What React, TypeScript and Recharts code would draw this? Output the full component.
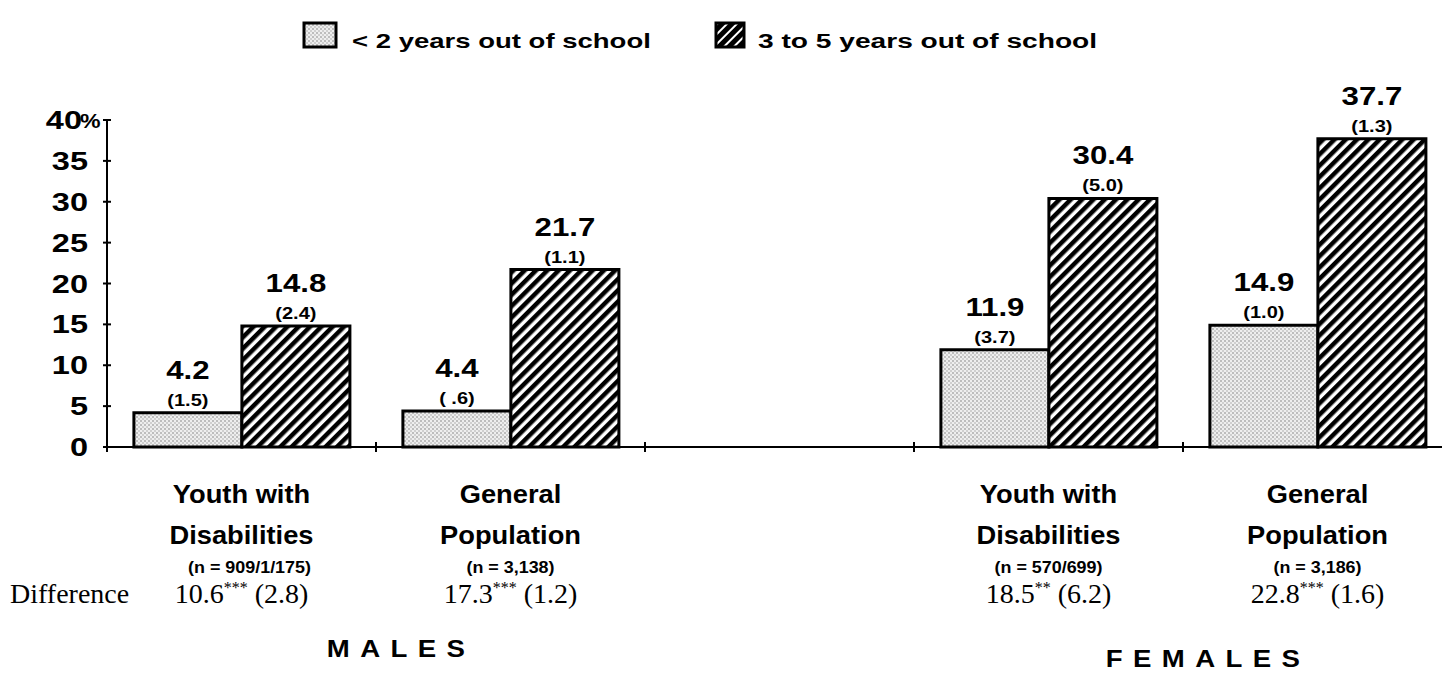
import { Bar, BarChart, LabelList, XAxis, YAxis } from "recharts";

const categoryKeys = ["m-ywd", "m-gp", "gap", "f-ywd", "f-gp"];
const categoryLines = [["Youth with", "Disabilities"], ["General", "Population"], [], ["Youth with", "Disabilities"], ["General", "Population"]];
const sampleLabels = ["(n = 909/1/175)", "(n = 3,138)", "", "(n = 570/699)", "(n = 3,186)"];
const lessThan2 = [4.2, 4.4, null, 11.9, 14.9];
const lessThan2Se = [1.5, 0.6, null, 3.7, 1.0];
const threeToFive = [14.8, 21.7, null, 30.4, 37.7];
const threeToFiveSe = [2.4, 1.1, null, 5.0, 1.3];
const differences = [10.6, 17.3, null, 18.5, 22.8];
const differenceStars = ["***", "***", "", "**", "***"];
const differenceSe = [2.8, 1.2, null, 6.2, 1.6];
const groupLabels: Record<number, string> = { 0: "MALES", 3: "FEMALES" };
const yTicks = [0, 5, 10, 15, 20, 25, 30, 35, 40];
const legendItems = ["< 2 years out of school", "3 to 5 years out of school"];

const rows = categoryKeys.map((key, i) => ({
  key,
  less: lessThan2[i],
  lessSe: lessThan2Se[i],
  three: threeToFive[i],
  threeSe: threeToFiveSe[i]
}));

const SANS = "'Liberation Sans', Arial, sans-serif";
const SERIF = "'Liberation Serif', 'Times New Roman', serif";
const CHART_W = 1452;
const CHART_H = 674;
const MARGIN = { top: 120, right: 0, bottom: 0, left: 27 };
const Y_AXIS_W = 80;
const X_AXIS_H = 227;
const BAND_W = (CHART_W - MARGIN.left - MARGIN.right - Y_AXIS_W) / categoryKeys.length;

function SText({ x, y, sx = 1, anchor = "middle", size, weight = "bold", serif = false, spacing, children }: any) {
  return (
    <text
      transform={`translate(${x},${y}) scale(${sx},1)`}
      textAnchor={anchor}
      fontSize={size}
      fontWeight={weight}
      fontFamily={serif ? SERIF : SANS}
      letterSpacing={spacing}
      fill="#000"
    >
      {children}
    </text>
  );
}

function formatSe(v: number): string {
  return v < 1 ? `( ${v.toFixed(1).slice(1)})` : `(${v.toFixed(1)})`;
}

function BigLabel(props: any) {
  const { x, y, width, value } = props;
  if (value == null) return null;
  return <SText x={x + width / 2} y={y - 34} size={26} sx={1.2}>{value.toFixed(1)}</SText>;
}

function SmallLabel(props: any) {
  const { x, y, width, value } = props;
  if (value == null) return null;
  return <SText x={x + width / 2} y={y - 7} size={16} sx={1.25}>{formatSe(value)}</SText>;
}

function YTick(props: any) {
  const { x, y, payload } = props;
  const v = payload.value;
  return (
    <g>
      <line x1={x - 4} x2={x + 4} y1={y} y2={y} stroke="#000" strokeWidth={2} />
      {v === 40 ? (
        <g>
          <SText x={x - 25} y={y + 9} anchor="end" size={25} sx={1.3}>40</SText>
          <SText x={x - 27} y={y + 8} anchor="start" size={21} sx={1.1}>%</SText>
        </g>
      ) : (
        <SText x={x - 19} y={y + 9} anchor="end" size={25} sx={1.3}>{v}</SText>
      )}
    </g>
  );
}

function XTick(props: any) {
  const { x, y, index } = props;
  const lines = categoryLines[index] ?? [];
  const diff = differences[index];
  const group = groupLabels[index];
  return (
    <g>
      <line x1={x - BAND_W / 2} x2={x - BAND_W / 2} y1={y - 5} y2={y + 5} stroke="#000" strokeWidth={2} />
      {index === categoryKeys.length - 1 && (
        <line x1={x + BAND_W / 2} x2={x + BAND_W / 2} y1={y - 5} y2={y + 5} stroke="#000" strokeWidth={2} />
      )}
      {lines.map((line: string, i: number) => (
        <SText key={line} x={x} y={y + 56 + i * 41} size={26} sx={1.05}>{line}</SText>
      ))}
      {sampleLabels[index] && (
        <SText x={x + (index === 0 ? 8 : 0)} y={y + 126} size={16} sx={1.12}>{sampleLabels[index]}</SText>
      )}
      {diff != null && (
        <text x={x} y={y + 156} textAnchor="middle" fontFamily={SERIF} fontSize={28} fill="#000">
          {diff.toFixed(1)}
          <tspan fontSize={16} dy={-10}>{differenceStars[index]}</tspan>
          <tspan dy={10}>{` (${differenceSe[index]!.toFixed(1)})`}</tspan>
        </text>
      )}
      {index === 0 && (
        <text x={10} y={y + 156} fontFamily={SERIF} fontSize={28} fill="#000">Difference</text>
      )}
      {group && (
        <SText x={x + BAND_W / 2 + 20 + 5} y={y + (index === 0 ? 210 : 220)} size={24} sx={1.15} spacing={9}>{group}</SText>
      )}
    </g>
  );
}

function Legend() {
  return (
    <svg width={1442} height={70} style={{ position: "absolute", left: 0, top: 0 }}>
      <defs>
        <pattern id="legStipple" width={4} height={4} patternUnits="userSpaceOnUse">
          <rect width={4} height={4} fill="#eeeeee" />
          <circle cx={1} cy={1} r={0.7} fill="#666" />
          <circle cx={3} cy={3} r={0.7} fill="#999" />
        </pattern>
        <pattern id="legHatch" width={7} height={7} patternUnits="userSpaceOnUse" patternTransform="rotate(45)">
          <rect width={7} height={7} fill="#fff" />
          <rect width={5} height={7} fill="#000" />
        </pattern>
      </defs>
      <rect x={304} y={23} width={32} height={24} fill="url(#legStipple)" stroke="#000" strokeWidth={3} />
      <SText x={352} y={48} anchor="start" size={21} sx={1.31}>{legendItems[0]}</SText>
      <rect x={716} y={23} width={28} height={24} fill="url(#legHatch)" stroke="#000" strokeWidth={3} />
      <SText x={758} y={48} anchor="start" size={21} sx={1.34}>{legendItems[1]}</SText>
    </svg>
  );
}

export default function App() {
  return (
    <div style={{ position: "absolute", left: 0, top: 0, width: 1442, height: 674, overflow: "hidden", background: "#fff" }}>
      <BarChart
        width={CHART_W}
        height={CHART_H}
        data={rows}
        margin={MARGIN}
        barCategoryGap="10%"
        barGap={0}
      >
        <defs>
          <pattern id="stipple" width={4} height={4} patternUnits="userSpaceOnUse">
            <rect width={4} height={4} fill="#eeeeee" />
            <circle cx={1} cy={1} r={0.7} fill="#666" />
            <circle cx={3} cy={3} r={0.7} fill="#999" />
          </pattern>
          <pattern id="hatch" width={8} height={8} patternUnits="userSpaceOnUse" patternTransform="rotate(45)">
            <rect width={8} height={8} fill="#fff" />
            <rect width={4.5} height={8} fill="#000" />
          </pattern>
        </defs>
        <XAxis
          dataKey="key"
          height={X_AXIS_H}
          interval={0}
          tickLine={false}
          tickSize={0}
          tickMargin={0}
          axisLine={{ stroke: "#000", strokeWidth: 2 }}
          tick={<XTick />}
        />
        <YAxis
          width={Y_AXIS_W}
          domain={[0, 40]}
          ticks={yTicks}
          interval={0}
          tickLine={false}
          tickSize={0}
          tickMargin={0}
          axisLine={{ stroke: "#000", strokeWidth: 2 }}
          tick={<YTick />}
        />
        <Bar dataKey="less" fill="url(#stipple)" stroke="#000" strokeWidth={3} isAnimationActive={false}>
          <LabelList dataKey="less" content={<BigLabel />} />
          <LabelList dataKey="lessSe" content={<SmallLabel />} />
        </Bar>
        <Bar dataKey="three" fill="url(#hatch)" stroke="#000" strokeWidth={3} isAnimationActive={false}>
          <LabelList dataKey="three" content={<BigLabel />} />
          <LabelList dataKey="threeSe" content={<SmallLabel />} />
        </Bar>
      </BarChart>
      <Legend />
    </div>
  );
}
